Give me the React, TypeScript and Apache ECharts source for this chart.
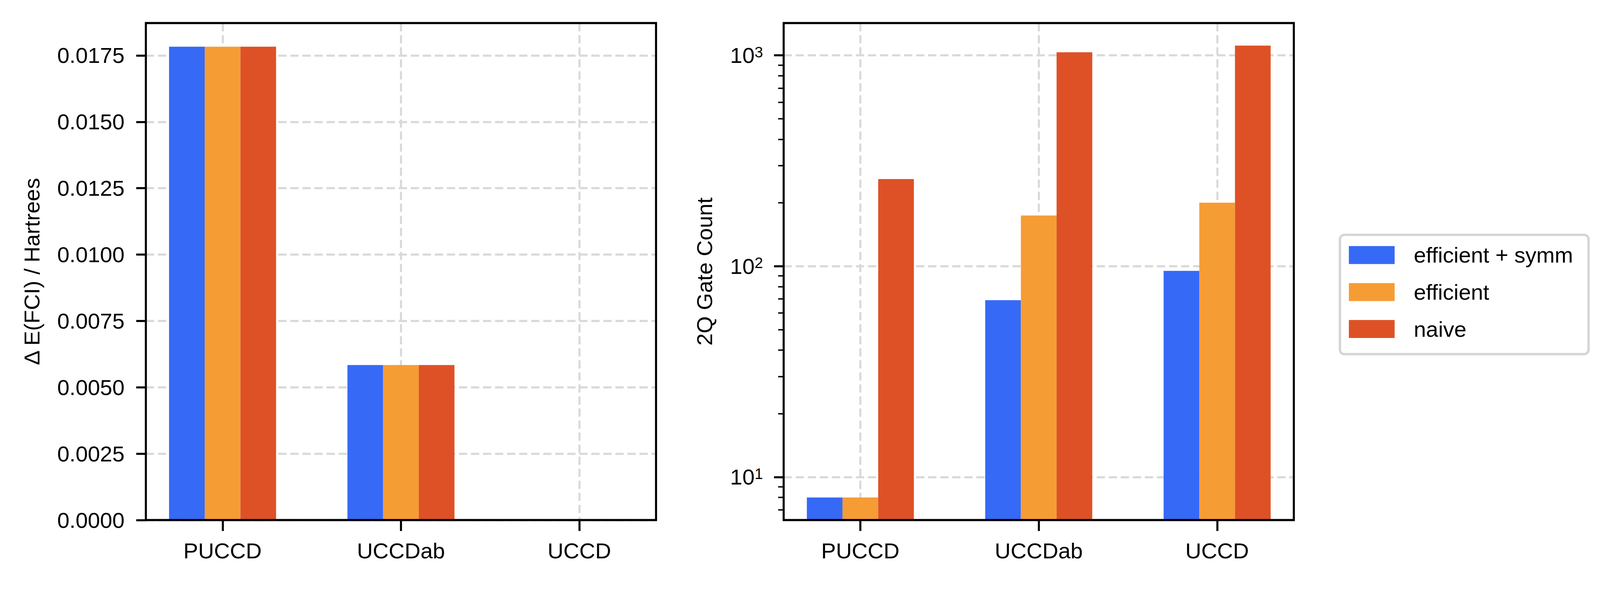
import React, { useEffect, useRef } from 'react';
import * as echarts from 'echarts';

const CATEGORIES = ['PUCCD', 'UCCDab', 'UCCD'];
const METHODS = ['efficient + symm', 'efficient', 'naive'];
const COLORS = ['#3669F5', '#F69C35', '#DE5126'];

const ENERGY_EFF_SYMM = [0.01783, 0.00584, 0];
const ENERGY_EFF = [0.01783, 0.00584, 0];
const ENERGY_NAIVE = [0.01783, 0.00584, 0];

const GATES_EFF_SYMM = [8, 69, 95];
const GATES_EFF = [8, 174, 200];
const GATES_NAIVE = [259, 1035, 1112];

const ENERGY_TICKS = [0, 0.0025, 0.005, 0.0075, 0.01, 0.0125, 0.015, 0.0175];
const GATE_MAJOR_TICKS = [10, 100, 1000];
const GATE_MINOR_TICKS = [7, 8, 9, 20, 30, 40, 50, 60, 70, 80, 90, 200, 300, 400, 500, 600, 700, 800, 900];
const CAT_TICKS = [0, 1, 2];

const BAR_OFFSETS = [-0.2, 0, 0.2];
const BAR_WIDTH = 0.2;

const FONT = '"Liberation Sans", Arial, Helvetica, sans-serif';
const GRID_COLOR = '#d9d9d9';
const REF_W = 4651;
const REF_H = 1510;

// matplotlib-like 5% margins
const X_LO = -0.3;
const X_HI = CATEGORIES.length - 1 + 0.3;
const X_MIN = X_LO - 0.05 * (X_HI - X_LO);
const X_MAX = X_HI + 0.05 * (X_HI - X_LO);

const allEnergy = [...ENERGY_EFF_SYMM, ...ENERGY_EFF, ...ENERGY_NAIVE];
const E_MAX = Math.max(...allEnergy) * 1.05;

const allGates = [...GATES_EFF_SYMM, ...GATES_EFF, ...GATES_NAIVE];
const LG_LO = Math.log10(Math.min(...allGates));
const LG_HI = Math.log10(Math.max(...allGates));
const G_MIN = Math.pow(10, LG_LO - 0.05 * (LG_HI - LG_LO));
const G_MAX = Math.pow(10, LG_HI + 0.05 * (LG_HI - LG_LO));

const makeRender = (offset: number, base: number) => (params: any, api: any) => {
  const x = api.value(0) + offset;
  const v = api.value(1);
  if (!(v > 0)) return null;
  const p1 = api.coord([x - BAR_WIDTH / 2, v]);
  const p2 = api.coord([x + BAR_WIDTH / 2, base]);
  return {
    type: 'rect',
    shape: { x: p1[0], y: p1[1], width: p2[0] - p1[0], height: p2[1] - p1[1] },
    style: { fill: api.visual('color') },
  };
};

function buildOption(sx: number, sy: number) {
  const px = (v: number) => v * sx; // horizontal sizes, fonts, line widths
  const py = (v: number) => v * sy; // vertical positions
  const FS = px(64);
  const tickStyle = { color: '#000', width: px(6) };
  const splitStyle = { show: true, lineStyle: { color: GRID_COLOR, width: px(6), type: [px(24), px(11)] } };
  const labelBase = { fontSize: FS, fontFamily: FONT, color: '#000' };

  const xAxis = (gridIndex: number) => ({
    type: 'value',
    gridIndex,
    min: X_MIN,
    max: X_MAX,
    axisLine: { show: false, onZero: false },
    axisTick: { show: true, customValues: CAT_TICKS, length: py(28), lineStyle: tickStyle },
    axisLabel: {
      ...labelBase,
      customValues: CAT_TICKS,
      margin: py(58) - px(8),
      formatter: (v: number) => CATEGORIES[Math.round(v)],
    },
    splitLine: splitStyle,
  });

  const energySeries = [ENERGY_EFF_SYMM, ENERGY_EFF, ENERGY_NAIVE];
  const gateSeries = [GATES_EFF_SYMM, GATES_EFF, GATES_NAIVE];
  const gridBase = { top: py(59), width: px(1483), height: py(1272), show: true, z: 10, borderColor: '#000', borderWidth: px(6), backgroundColor: 'transparent' };

  const itemH = py(46);
  const itemGap = py(95) - FS;
  const padTop = py(601 + 29) - (FS / 2 - itemH / 2) - py(601);
  const padBottom = py(908) - py(843.5) - FS / 2;

  return {
    animation: false,
    backgroundColor: '#fff',
    textStyle: { fontFamily: FONT },
    grid: [
      { ...gridBase, left: px(424) },
      { ...gridBase, left: px(2278) },
    ],
    xAxis: [xAxis(0), xAxis(1)],
    yAxis: [
      {
        type: 'value',
        gridIndex: 0,
        position: 'left',
        min: 0,
        max: E_MAX,
        interval: 0.0025,
        name: 'Δ E(FCI) / Hartrees',
        nameLocation: 'middle',
        nameGap: px(300),
        nameTextStyle: { ...labelBase },
        axisLine: { show: false, onZero: false },
        axisTick: { show: true, customValues: ENERGY_TICKS, length: px(28), lineStyle: tickStyle },
        axisLabel: { ...labelBase, customValues: ENERGY_TICKS, margin: px(62), formatter: (v: number) => v.toFixed(4) },
        splitLine: splitStyle,
      },
      {
        type: 'log',
        logBase: 10,
        gridIndex: 1,
        position: 'left',
        min: G_MIN,
        max: G_MAX,
        name: '2Q Gate Count',
        nameLocation: 'middle',
        nameGap: px(198),
        nameTextStyle: { ...labelBase },
        axisLine: { show: false, onZero: false },
        axisTick: { show: true, customValues: GATE_MAJOR_TICKS, length: px(28), lineStyle: tickStyle },
        axisLabel: {
          customValues: GATE_MAJOR_TICKS,
          margin: px(60),
          formatter: (v: number) => `{b|10}{s|${Math.round(Math.log10(v))}}`,
          rich: {
            b: { fontSize: FS, fontFamily: FONT, color: '#000', lineHeight: FS },
            s: { fontSize: px(44), fontFamily: FONT, color: '#000', verticalAlign: 'top', lineHeight: px(28) },
          },
        },
        splitLine: splitStyle,
      },
      {
        type: 'log',
        logBase: 10,
        gridIndex: 1,
        position: 'left',
        offset: 0,
        min: G_MIN,
        max: G_MAX,
        axisLine: { show: false, onZero: false },
        axisTick: { show: true, customValues: GATE_MINOR_TICKS, length: px(16), lineStyle: { color: '#000', width: px(4) } },
        axisLabel: { show: false },
        splitLine: { show: false },
      },
    ],
    legend: {
      data: METHODS.map((name, i) => ({ name, icon: 'rect', itemStyle: { color: COLORS[i] } })),
      orient: 'vertical',
      left: px(3895),
      top: py(601),
      itemWidth: px(133),
      itemHeight: itemH,
      itemGap,
      padding: [padTop, px(45), padBottom, px(26)],
      borderColor: '#d6d6d6',
      borderWidth: px(7),
      borderRadius: px(13),
      backgroundColor: '#fff',
      selectedMode: false,
      textStyle: { ...labelBase, padding: [0, 0, 0, px(50)] },
    },
    series: [
      ...energySeries.map((arr, i) => ({
        type: 'custom',
        name: METHODS[i],
        xAxisIndex: 0,
        yAxisIndex: 0,
        clip: true,
        itemStyle: { color: COLORS[i] },
        encode: { x: 0, y: 1 },
        data: arr.map((v, j) => [j, v]),
        renderItem: makeRender(BAR_OFFSETS[i], 0),
      })),
      ...gateSeries.map((arr, i) => ({
        type: 'custom',
        name: METHODS[i],
        xAxisIndex: 1,
        yAxisIndex: 1,
        clip: true,
        itemStyle: { color: COLORS[i] },
        encode: { x: 0, y: 1 },
        data: arr.map((v, j) => [j, v]),
        renderItem: makeRender(BAR_OFFSETS[i], G_MIN),
      })),
    ],
  };
}

export default function App() {
  const ref = useRef<HTMLDivElement>(null);
  useEffect(() => {
    const el = ref.current!;
    const w = el.clientWidth || window.innerWidth;
    const h = el.clientHeight || window.innerHeight;
    const chart = echarts.init(el, null, { renderer: 'svg' });
    chart.setOption(buildOption(w / REF_W, h / REF_H) as any);
    return () => chart.dispose();
  }, []);
  return (
    <div
      ref={ref}
      style={{ position: 'fixed', left: 0, top: 0, width: '100vw', height: '100vh', background: '#fff', overflow: 'hidden' }}
    />
  );
}
